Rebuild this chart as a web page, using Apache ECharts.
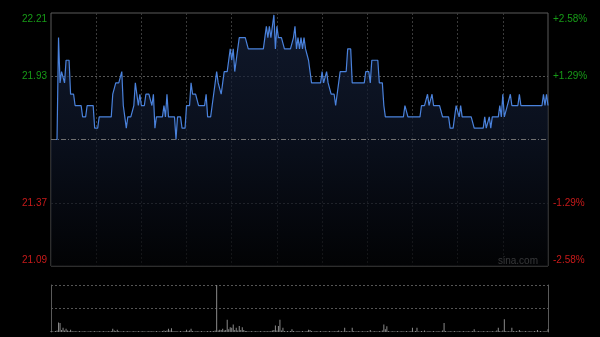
<!DOCTYPE html>
<html>
<head>
<meta charset="utf-8">
<script src="https://cdn.jsdelivr.net/npm/echarts@6/dist/echarts.min.js"></script>
<style>
html,body{margin:0;padding:0;background:#000;}
#chart{width:600px;height:337px;}
</style>
</head>
<body>
<div id="chart"></div>
<script>
// ---- data ----
const prevClose = 21.65;
const priceTickLabels = ['21.09', '21.37', '', '21.93', '22.21'];
const pctTickLabels = ['-2.58%', '-1.29%', '', '+1.29%', '+2.58%'];
const sessions = [['09:30', '12:00'], ['13:01', '16:00']];

const prices = [
  21.65,21.65,21.65,21.65,21.65,22.10,21.90,21.95,21.95,21.90,
  22.00,22.00,22.00,21.85,21.85,21.85,21.80,21.80,21.80,21.80,
  21.80,21.75,21.75,21.75,21.80,21.80,21.80,21.80,21.80,21.70,
  21.70,21.70,21.75,21.75,21.75,21.75,21.75,21.75,21.75,21.75,
  21.75,21.85,21.85,21.90,21.90,21.90,21.90,21.95,21.80,21.75,
  21.70,21.75,21.75,21.75,21.75,21.80,21.90,21.85,21.80,21.85,
  21.80,21.80,21.80,21.85,21.85,21.85,21.85,21.80,21.85,21.70,
  21.75,21.75,21.75,21.75,21.75,21.80,21.75,21.85,21.75,21.75,
  21.75,21.75,21.75,21.65,21.75,21.75,21.75,21.70,21.70,21.70,
  21.80,21.80,21.80,21.90,21.85,21.85,21.85,21.85,21.80,21.80,
  21.80,21.80,21.80,21.85,21.75,21.75,21.75,21.80,21.85,21.90,
  21.95,21.90,21.90,21.85,21.90,21.95,21.95,21.95,22.00,22.05,
  22.00,22.05,21.95,22.00,22.05,22.10,22.10,22.10,22.10,22.10,
  22.10,22.05,22.05,22.05,22.05,22.05,22.05,22.05,22.05,22.05,
  22.05,22.05,22.10,22.15,22.10,22.15,22.10,22.10,22.20,22.05,
  22.15,22.10,22.10,22.10,22.10,22.05,22.05,22.05,22.05,22.05,
  22.05,22.10,22.15,22.05,22.10,22.05,22.10,22.05,22.10,22.05,
  22.05,22.00,21.95,21.90,21.90,21.90,21.90,21.90,21.90,21.90,
  21.95,21.90,21.90,21.95,21.90,21.90,21.85,21.85,21.85,21.80,
  21.80,21.90,21.95,21.95,21.95,21.95,21.95,22.05,22.05,22.05,
  21.90,21.90,21.90,21.90,21.90,21.90,21.90,21.90,21.90,21.95,
  21.95,21.95,21.90,22.00,22.00,22.00,22.00,22.00,21.90,21.90,
  21.90,21.80,21.75,21.75,21.75,21.75,21.75,21.75,21.75,21.75,
  21.75,21.75,21.75,21.75,21.75,21.80,21.80,21.75,21.75,21.75,
  21.75,21.75,21.75,21.75,21.75,21.75,21.80,21.80,21.80,21.80,
  21.85,21.80,21.80,21.85,21.80,21.80,21.80,21.80,21.80,21.80,
  21.75,21.75,21.75,21.75,21.75,21.70,21.70,21.70,21.75,21.80,
  21.80,21.75,21.80,21.75,21.75,21.75,21.75,21.75,21.75,21.75,
  21.75,21.70,21.70,21.70,21.70,21.70,21.70,21.70,21.75,21.70,
  21.70,21.75,21.70,21.75,21.75,21.75,21.75,21.75,21.80,21.75,
  21.85,21.75,21.75,21.80,21.80,21.85,21.80,21.80,21.80,21.80,
  21.80,21.85,21.80,21.80,21.80,21.80,21.80,21.80,21.80,21.80,
  21.80,21.80,21.80,21.80,21.80,21.80,21.80,21.85,21.80,21.85,
  21.80
];

const volumes = [
  2,1,1,2,3,20,19,4,9,3,
  7,3,2,5,2,1,2,1,1,2,
  1,1,2,1,1,1,2,1,1,2,
  1,1,2,1,1,2,1,1,2,1,
  2,7,3,2,5,2,1,1,2,1,
  1,2,1,1,1,2,1,1,2,1,
  1,2,1,1,1,2,1,2,1,1,
  2,1,1,1,2,3,2,3,7,3,
  8,2,1,2,1,1,2,1,1,2,
  5,2,3,7,2,1,1,2,1,1,
  2,1,1,1,2,1,2,1,2,3,
  100,3,5,4,7,3,4,26,6,10,
  9,16,4,9,3,13,4,10,4,2,
  2,1,1,2,1,1,2,1,1,2,
  1,1,2,1,2,1,2,3,4,14,
  3,13,26,3,9,2,1,2,1,2,
  6,2,1,1,2,1,1,2,1,1,
  2,5,4,2,1,1,2,1,1,2,
  1,1,2,1,1,2,1,1,2,1,
  2,3,1,2,1,9,2,1,2,1,
  9,2,1,1,2,1,1,2,1,1,
  2,1,4,1,1,2,1,1,2,1,
  3,16,6,12,2,1,1,2,1,1,
  2,1,1,2,1,1,2,1,1,2,
  9,1,2,9,1,1,2,1,3,1,
  1,2,1,1,2,1,1,2,1,1,
  3,19,2,1,1,2,1,1,2,1,
  1,2,1,1,2,1,1,2,1,1,
  2,6,1,1,2,1,1,2,1,1,
  2,1,1,2,1,1,3,9,2,1,
  3,27,2,1,2,1,9,2,1,2,
  1,4,2,1,1,2,1,1,2,1,
  1,2,1,4,1,2,1,1,2,1,
  6
];

// ---- build time categories ----
function toMin(s){const p=s.split(':');return (+p[0])*60+(+p[1]);}
function fmt(m){const h=Math.floor(m/60),mm=m%60;return (h<10?'0':'')+h+':'+(mm<10?'0':'')+mm;}
const times = [];
sessions.forEach(function(s){for(let m=toMin(s[0]);m<=toMin(s[1]);m++){times.push(fmt(m));}});

const pctData = prices.map(function(p){return +((p/prevClose-1)*100).toFixed(4);});
const volMax = Math.max.apply(null, volumes);

const GREEN = '#179b17', RED = '#c81a1a';
const FONT = '"Liberation Sans", Arial, sans-serif';
function richLabels(align){
  return {
    up:{color:GREEN,fontSize:10,fontFamily:FONT,align:align},
    upTop:{color:GREEN,fontSize:10,fontFamily:FONT,padding:[12,0,0,0],align:align},
    dn:{color:RED,fontSize:10,fontFamily:FONT,align:align},
    dnBot:{color:RED,fontSize:10,fontFamily:FONT,padding:[0,0,11,0],align:align}
  };
}
function labelFmt(arr){
  return function(v, idx){
    const t = arr[idx];
    if(!t) return '';
    if(idx===arr.length-1) return '{upTop|'+t+'}';
    if(idx===0) return '{dnBot|'+t+'}';
    return v>0 ? '{up|'+t+'}' : '{dn|'+t+'}';
  };
}

const chart = echarts.init(document.getElementById('chart'), null, {renderer:'canvas'});
chart.setOption({
  backgroundColor:'#000',
  animation:false,
  grid:[
    {left:51,right:52,top:13,height:253,show:true,borderColor:'#5a5a5a',borderWidth:1,backgroundColor:'transparent'},
    {left:51,right:52,top:285,height:47}
  ],
  xAxis:[
    {type:'category',gridIndex:0,data:times,boundaryGap:false,
     axisLine:{show:false},axisTick:{show:false},axisLabel:{show:false},
     splitLine:{show:true,interval:function(i){return i>0&&i<times.length-1&&i%30===0;},
       lineStyle:{color:'#3a3a3a',type:[2,2],width:1}}},
    {type:'category',gridIndex:1,data:times,boundaryGap:false,
     axisLine:{show:false},axisTick:{show:false},axisLabel:{show:false},splitLine:{show:false}}
  ],
  yAxis:[
    {type:'value',gridIndex:0,position:'left',min:-2.58,max:2.58,interval:1.29,
     axisLine:{show:false},axisTick:{show:false},
     axisLabel:{margin:4,formatter:labelFmt(priceTickLabels),rich:richLabels('right')},
     splitLine:{show:true,lineStyle:{color:['transparent','#555','transparent','#555','transparent'],type:[2,2],width:1}}},
    {type:'value',gridIndex:0,position:'right',min:-2.58,max:2.58,interval:1.29,
     axisLine:{show:false},axisTick:{show:false},
     axisLabel:{margin:5,formatter:labelFmt(pctTickLabels),rich:richLabels('left')},
     splitLine:{show:false}},
    {type:'value',gridIndex:1,position:'left',min:0,max:volMax,interval:volMax/2,
     axisLine:{show:true,lineStyle:{color:'#5a5a5a',width:1}},axisTick:{show:false},axisLabel:{show:false},
     splitLine:{show:true,lineStyle:{color:['transparent','#555','#555'],type:[2,2],width:1}}},
    {type:'value',gridIndex:1,position:'right',min:0,max:volMax,interval:volMax/2,
     axisLine:{show:true,lineStyle:{color:'#5a5a5a',width:1}},axisTick:{show:false},axisLabel:{show:false},
     splitLine:{show:false}}
  ],
  series:[
    {type:'line',xAxisIndex:0,yAxisIndex:0,data:pctData,symbol:'none',
     lineStyle:{color:'#4a82dc',width:1.2},
     areaStyle:{origin:'start',color:new echarts.graphic.LinearGradient(0,0,0,1,[
       {offset:0,color:'#17233e'},{offset:0.5,color:'#0e1628'},{offset:1,color:'#030406'}])},
     markLine:{silent:true,symbol:'none',label:{show:false},
       lineStyle:{color:'#707070',type:[5,2,1,2],width:1},
       data:[{yAxis:0}]},
     z:3},
    {type:'bar',xAxisIndex:1,yAxisIndex:2,data:volumes,barWidth:1,
     itemStyle:{color:'#8a8a8a'}}
  ],
  graphic:[
    {type:'text',left:498,top:256,style:{text:'sina.com',fill:'#a8a8a8',font:'10px '+FONT}}
  ]
});
</script>
</body>
</html>
